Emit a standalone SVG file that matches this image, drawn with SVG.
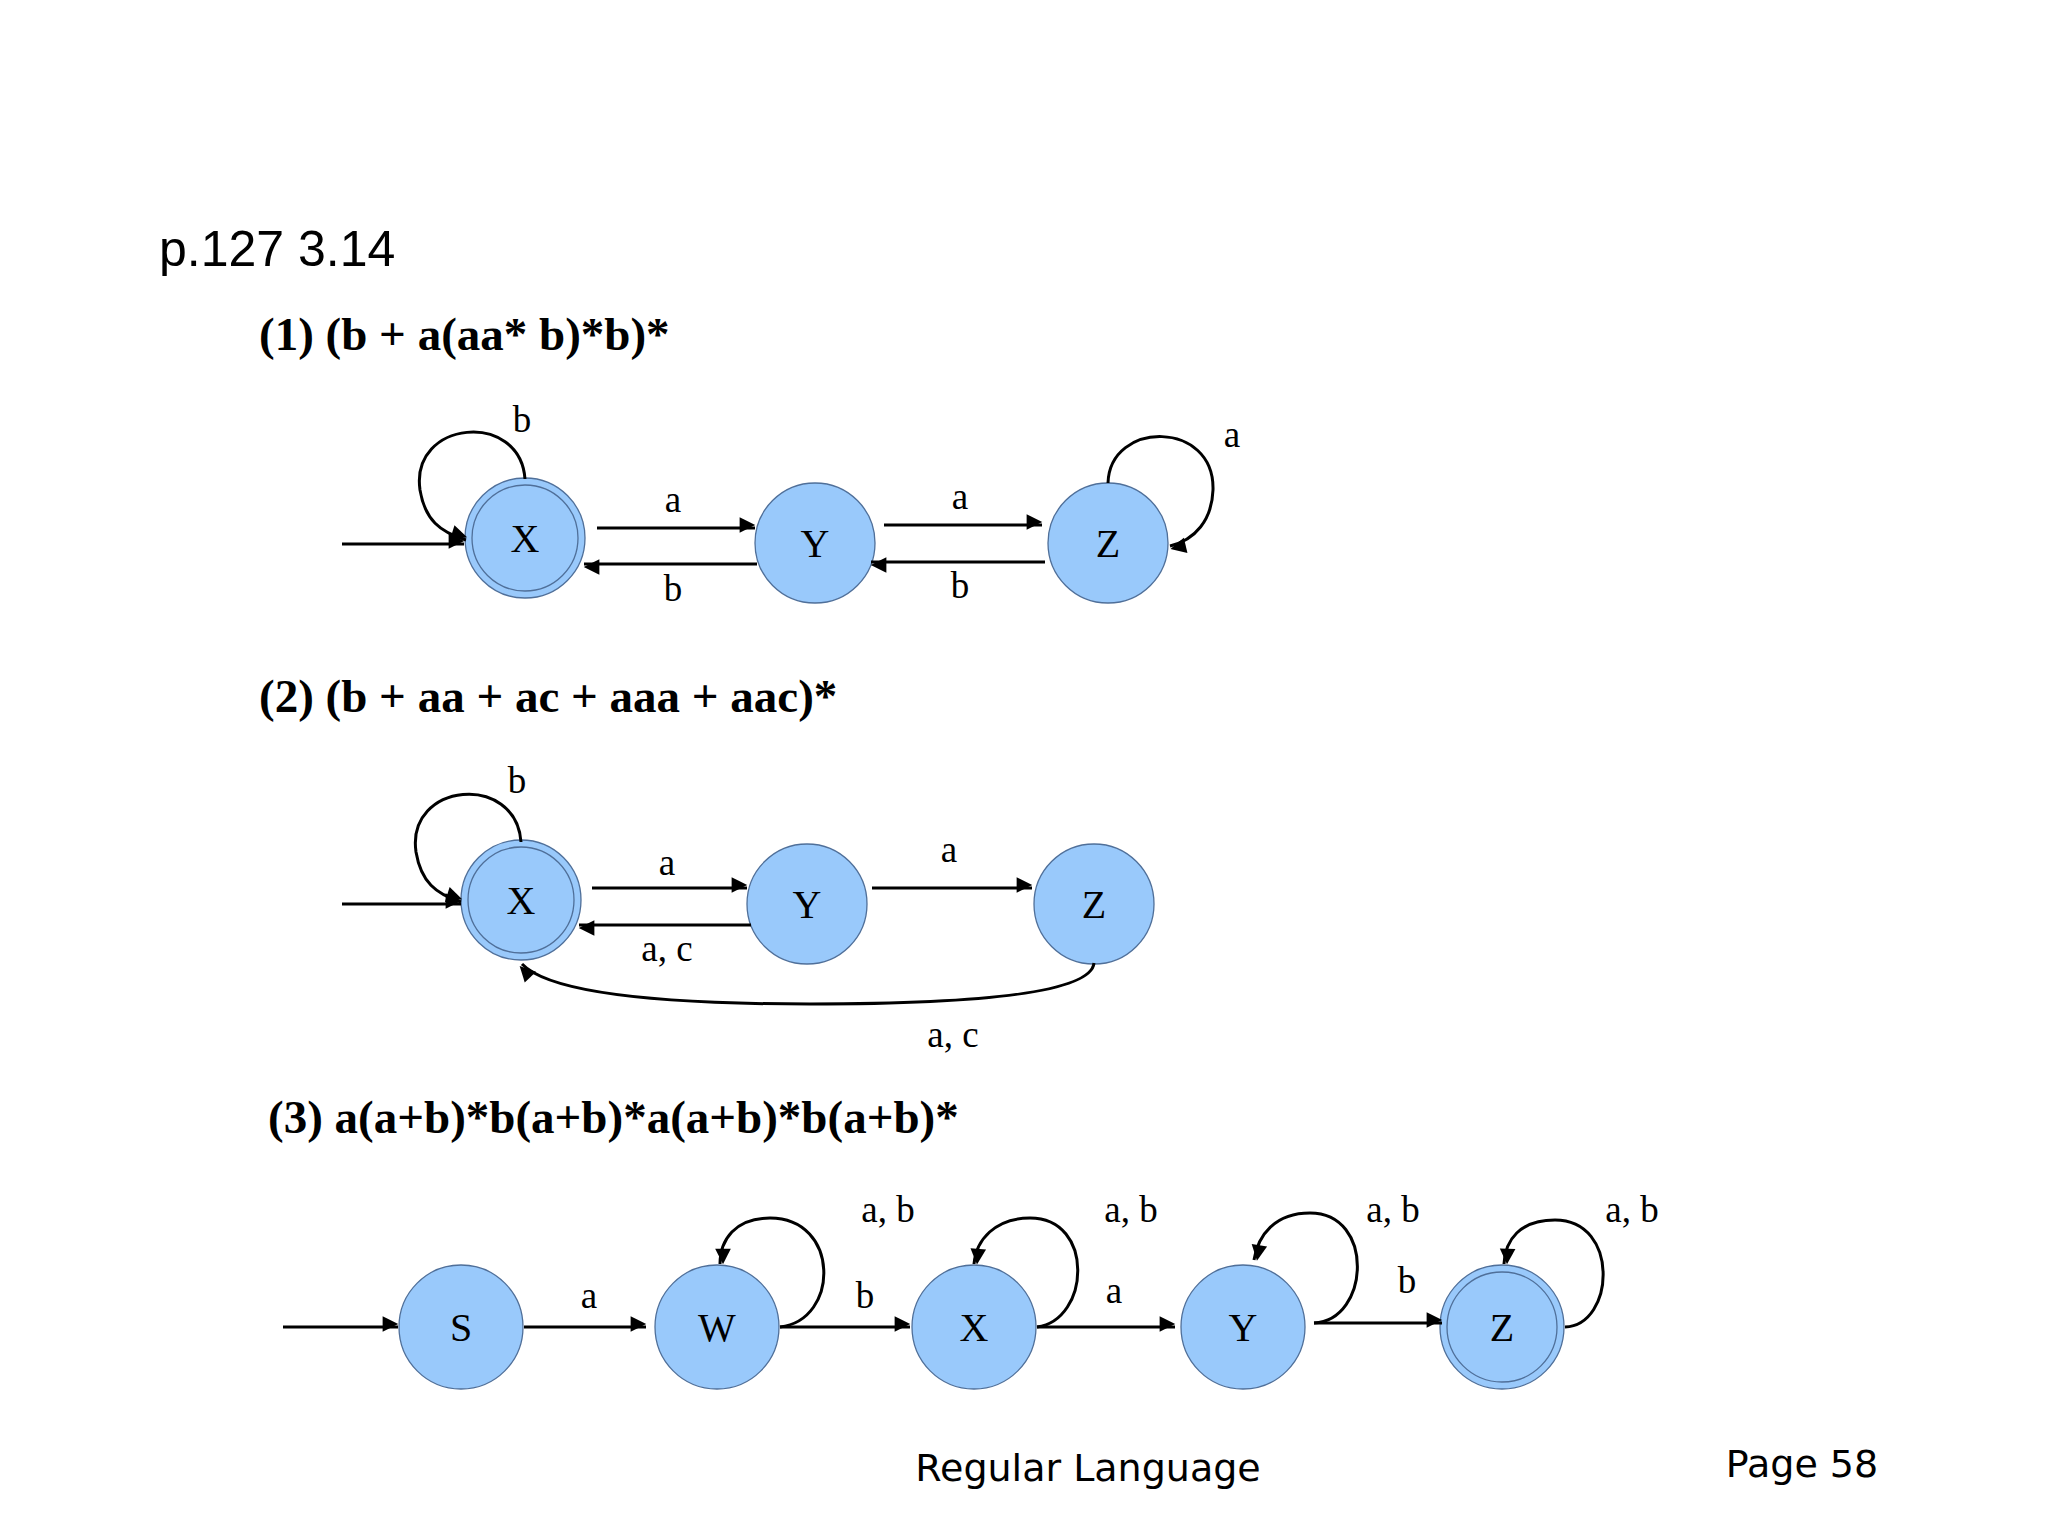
<svg xmlns="http://www.w3.org/2000/svg" width="2048" height="1536" viewBox="0 0 2048 1536">
<style>
.n{fill:#99c9fb;stroke:#4f6f99;stroke-width:1.3}
.r{fill:none;stroke:#4f6f99;stroke-width:1.3}
.t{font-family:"Liberation Serif",serif;font-size:40px;text-anchor:middle;fill:#000}
.l{font-family:"Liberation Serif",serif;font-size:37px;text-anchor:middle;fill:#000}
.h{font-family:"Liberation Serif",serif;font-size:47px;font-weight:bold;fill:#000}
.e{fill:none;stroke:#000;stroke-width:3;marker-end:url(#a)}
</style>
<defs><marker id="a" viewBox="0 0 10 10" refX="10" refY="5" markerWidth="7" markerHeight="6" orient="auto" markerUnits="userSpaceOnUse" style="overflow:visible"><path d="M0,0L10,5L0,10z" fill="#000" transform="scale(2.6) translate(-6,-5) translate(0,0)"/></marker></defs>
<rect width="2048" height="1536" fill="#fff"/>
<text x="159" y="266" font-family="Liberation Sans,sans-serif" font-size="50">p.127   3.14</text>
<text x="259" y="350" class="h">(1)  (b + a(aa* b)*b)*</text>
<text x="259" y="712" class="h">(2)  (b + aa + ac + aaa + aac)*</text>
<text x="268" y="1133" class="h">(3)  a(a+b)*b(a+b)*a(a+b)*b(a+b)*</text>
<g id="r1X"><circle class="n" cx="525" cy="538" r="60"/><circle class="r" cx="525" cy="538" r="53"/><text class="t" x="525" y="552">X</text></g>
<g id="r1Y"><circle class="n" cx="815" cy="543" r="60"/><text class="t" x="815" y="557">Y</text></g>
<g id="r1Z"><circle class="n" cx="1108" cy="543" r="60"/><text class="t" x="1108" y="557">Z</text></g>
<g id="r2X"><circle class="n" cx="521" cy="900" r="60"/><circle class="r" cx="521" cy="900" r="53"/><text class="t" x="521" y="914">X</text></g>
<g id="r2Y"><circle class="n" cx="807" cy="904" r="60"/><text class="t" x="807" y="918">Y</text></g>
<g id="r2Z"><circle class="n" cx="1094" cy="904" r="60"/><text class="t" x="1094" y="918">Z</text></g>
<g id="r3S"><circle class="n" cx="461" cy="1327" r="62"/><text class="t" x="461" y="1341">S</text></g>
<g id="r3W"><circle class="n" cx="717" cy="1327" r="62"/><text class="t" x="717" y="1341">W</text></g>
<g id="r3X"><circle class="n" cx="974" cy="1327" r="62"/><text class="t" x="974" y="1341">X</text></g>
<g id="r3Y"><circle class="n" cx="1243" cy="1327" r="62"/><text class="t" x="1243" y="1341">Y</text></g>
<g id="r3Z"><circle class="n" cx="1502" cy="1327" r="62"/><circle class="r" cx="1502" cy="1327" r="55"/><text class="t" x="1502" y="1341">Z</text></g>
<g id="edges">
<path class="e" d="M342,544H464"/>
<path class="e" d="M597,528H755"/>
<path class="e" d="M757,564H584"/>
<path class="e" d="M884,525H1042"/>
<path class="e" d="M1045,562H871"/>
<path class="e" d="M525,479C520,410 410,420 420,490C425,520 440,532 466,540"/>
<path class="e" d="M1108,483C1110,420 1215,420 1213,490C1212,520 1195,540 1170,546"/>
<path class="e" d="M342,904H461"/>
<path class="e" d="M592,888H747"/>
<path class="e" d="M751,925H579"/>
<path class="e" d="M872,888H1032"/>
<path class="e" d="M1094,963Q1090,1004 810,1004Q560,1004 522,964"/>
<path class="e" d="M521,842C516,772 406,782 416,852C421,882 436,894 461,902"/>
<path class="e" d="M283,1327H398"/>
<path class="e" d="M524,1327H646"/>
<path class="e" d="M780,1327H910"/>
<path class="e" d="M1037,1327H1175"/>
<path class="e" d="M1314,1323H1442"/>
<path class="e" d="M780,1327C840,1320 840,1218 770,1218C735,1218 720,1240 720,1264"/>
<path class="e" d="M1037,1327C1090,1320 1095,1218 1030,1218C995,1218 976,1240 974,1264"/>
<path class="e" d="M1314,1323C1370,1320 1375,1213 1310,1213C1275,1213 1258,1235 1254,1260"/>
<path class="e" d="M1565,1327C1615,1325 1620,1220 1555,1220C1520,1220 1505,1240 1504,1264"/>
</g>
<g id="labels">
<text class="l" x="522" y="432">b</text>
<text class="l" x="1232" y="447">a</text>
<text class="l" x="673" y="512">a</text>
<text class="l" x="673" y="601">b</text>
<text class="l" x="960" y="509">a</text>
<text class="l" x="960" y="598">b</text>
<text class="l" x="517" y="793">b</text>
<text class="l" x="667" y="875">a</text>
<text class="l" x="667" y="961">a, c</text>
<text class="l" x="949" y="862">a</text>
<text class="l" x="953" y="1047">a, c</text>
<text class="l" x="589" y="1308">a</text>
<text class="l" x="865" y="1308">b</text>
<text class="l" x="1114" y="1303">a</text>
<text class="l" x="1407" y="1293">b</text>
<text class="l" x="888" y="1222">a, b</text>
<text class="l" x="1131" y="1222">a, b</text>
<text class="l" x="1393" y="1222">a, b</text>
<text class="l" x="1632" y="1222">a, b</text>
</g>
<text x="1088" y="1481" text-anchor="middle" font-family="DejaVu Sans,sans-serif" font-size="38">Regular Language</text>
<text x="1802" y="1477" text-anchor="middle" font-family="DejaVu Sans,sans-serif" font-size="38">Page 58</text>
</svg>
